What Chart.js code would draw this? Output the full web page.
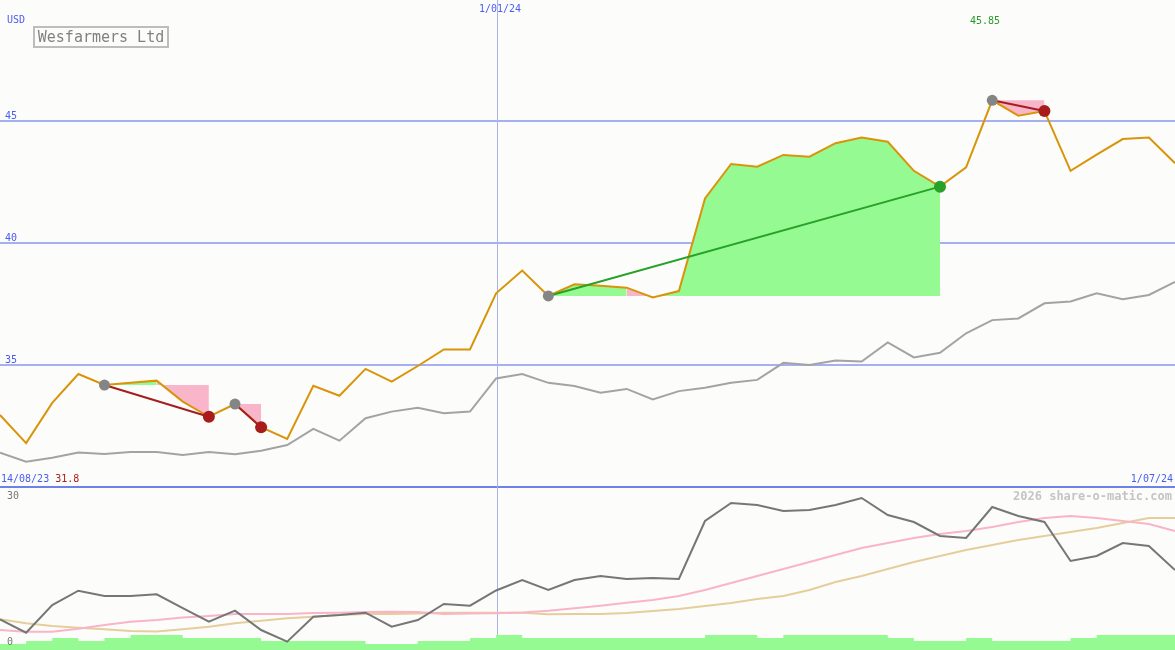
<!DOCTYPE html>
<html lang="en">
<head>
<meta charset="UTF-8">
<title>Wesfarmers Ltd</title>
<script src="https://cdn.jsdelivr.net/npm/chart.js"></script>
<style>
    body { margin: 0; background: #fcfdfb; }
    #wrap { position: relative; width: 1175px; height: 650px; overflow: hidden; }
    #chart { position: absolute; left: 0; top: 0; }
    .lbl { position: absolute; font-family: 'DejaVu Sans Mono', monospace; font-size: 10px; line-height: 12px; white-space: nowrap; }
    .blue { color: #4a5cf0; }
    #title { position: absolute; left: 33px; top: 26px; width: 132px; height: 18px; border: 2px solid #bdbdbd;
             font-family: 'DejaVu Sans Mono', monospace; font-size: 15px; line-height: 18px; color: #808080; text-align: center; }
</style>
</head>
<body>
<div id="wrap">
    <canvas id="chart" width="1175" height="650"></canvas>
    <div id="title">Wesfarmers Ltd</div>
    <div class="lbl blue" style="left:7px;top:14px">USD</div>
    <div class="lbl blue" style="left:479px;top:3px">1/01/24</div>
    <div class="lbl" style="left:970px;top:15px;color:#2a9a2a">45.85</div>
    <div class="lbl" style="left:1px;top:473px"><span class="blue">14/08/23</span> <span style="color:#a81c1c">31.8</span></div>
    <div class="lbl blue" style="right:2px;top:473px">1/07/24</div>
    <div class="lbl" style="right:3px;top:490px;font-size:12px;font-weight:bold;color:#c4c4c4">2026 share-o-matic.com</div>
    <div class="lbl" style="left:7px;top:490px;color:#777">30</div>
    <div class="lbl" style="left:7px;top:636px;color:#777">0</div>
</div>

<script>
    // weekly closes, 14/08/23 .. 1/07/24
    const close = [32.95, 31.80, 33.45, 34.63, 34.18, 34.27, 34.36, 33.50, 32.88, 33.40,
                   32.45, 31.97, 34.15, 33.74, 34.84, 34.32, 34.96, 35.64, 35.64, 37.94,
                   38.87, 37.83, 38.31, 38.25, 38.17, 37.77, 38.03, 41.83, 43.24, 43.13,
                   43.61, 43.54, 44.09, 44.32, 44.15, 42.96, 42.31, 43.10, 45.85, 45.22,
                   45.41, 42.96, 43.62, 44.26, 44.32, 43.27];
    // grey comparison line
    const compare = [31.41, 31.04, 31.20, 31.41, 31.35, 31.43, 31.43, 31.31, 31.43, 31.34,
                     31.49, 31.72, 32.38, 31.90, 32.82, 33.09, 33.25, 33.02, 33.09, 34.45,
                     34.63, 34.27, 34.14, 33.86, 34.02, 33.59, 33.93, 34.07, 34.27, 34.39,
                     35.09, 35.00, 35.18, 35.14, 35.93, 35.31, 35.50, 36.30, 36.84, 36.91,
                     37.53, 37.60, 37.94, 37.70, 37.87, 38.41];
    // lower panel indicator and its two averages
    const indicator = [5.79, 3.26, 8.49, 11.19, 10.19, 10.19, 10.51, 7.92, 5.34, 7.42,
                       3.77, 1.57, 6.28, 6.60, 7.04, 4.40, 5.66, 8.68, 8.36, 11.23,
                       13.21, 11.32, 13.21, 13.96, 13.40, 13.58, 13.40, 24.34, 27.74, 27.36,
                       26.23, 26.42, 27.36, 28.68, 25.47, 24.15, 21.51, 21.13, 26.98, 25.28,
                       24.15, 16.79, 17.74, 20.19, 19.62, 15.09];
    const avgFast = [3.77, 3.45, 3.45, 4.02, 4.72, 5.34, 5.66, 6.13, 6.42, 6.79,
                     6.79, 6.79, 6.98, 7.04, 7.17, 7.23, 7.17, 6.79, 6.89, 6.92,
                     7.08, 7.42, 7.87, 8.36, 8.93, 9.43, 10.19, 11.32, 12.64, 13.96,
                     15.28, 16.60, 17.92, 19.25, 20.19, 21.13, 21.89, 22.45, 23.21, 24.15,
                     24.91, 25.28, 24.91, 24.34, 23.77, 22.45];
    const avgSlow = [5.79, 5.04, 4.53, 4.21, 3.91, 3.58, 3.49, 3.91, 4.40, 5.04,
                     5.53, 5.98, 6.28, 6.60, 6.79, 6.79, 6.89, 7.04, 7.04, 7.04,
                     7.04, 6.74, 6.79, 6.79, 6.98, 7.36, 7.74, 8.30, 8.87, 9.62,
                     10.19, 11.32, 12.83, 13.96, 15.28, 16.60, 17.74, 18.87, 19.81, 20.75,
                     21.51, 22.26, 23.02, 23.96, 24.91, 24.91];
    const volume = [2, 3, 4, 3, 4, 5, 5, 4, 4, 4,
                    3, 3, 3, 3, 2, 2, 3, 3, 4, 5,
                    4, 4, 4, 4, 4, 4, 4, 5, 5, 4,
                    5, 5, 5, 5, 4, 3, 3, 4, 3, 3,
                    3, 4, 5, 5, 5, 5];
    // trades: entry and exit week indexes
    const tradeEntries = [4, 9, 21, 38];
    const tradeExits = [8, 10, 36, 40];

    const gridLevels = [45, 40, 35];
    const priceFloor = 30;
    const dateLineIndex = 19;

    const GREEN_FILL = '#95fa92';
    const PINK_FILL = '#f9b6cb';

    const pts = (arr) => arr.map((v, i) => ({ x: i, y: v }));

    const datasets = [];

    // markers on top
    tradeEntries.forEach((e, k) => {
        const x = tradeExits[k];
        const win = close[x] > close[e];
        datasets.push({
            type: 'scatter', yAxisID: 'y', order: 1,
            data: [{ x: x, y: close[x] }],
            pointRadius: 6, pointBackgroundColor: win ? '#27a127' : '#a81c1c', pointBorderWidth: 0
        });
        datasets.push({
            type: 'scatter', yAxisID: 'y', order: 1,
            data: [{ x: e, y: close[e] }],
            pointRadius: 5.5, pointBackgroundColor: '#858585', pointBorderWidth: 0
        });
        datasets.push({
            type: 'line', yAxisID: 'y', order: 2,
            data: [{ x: e, y: close[e] }, { x: x, y: close[x] }],
            borderColor: win ? '#27a127' : '#a31f1f', borderWidth: 2, pointRadius: 0
        });
    });

    datasets.push({
        type: 'line', yAxisID: 'y', order: 3, data: pts(close),
        borderColor: '#d9940a', borderWidth: 2, pointRadius: 0
    });

    // trade fills against entry price
    tradeEntries.forEach((e, k) => {
        const x = tradeExits[k];
        const entry = close[e];
        const seg = [];
        for (let i = e; i <= x; i++) seg.push({ x: i, y: close[i] });
        datasets.push({
            type: 'line', yAxisID: 'y', order: 4, data: seg,
            borderColor: 'transparent', borderWidth: 0, pointRadius: 0,
            backgroundColor: GREEN_FILL,
            fill: { value: entry },
            segment: { backgroundColor: ctx => ctx.p1.parsed.y >= entry ? GREEN_FILL : PINK_FILL }
        });
    });

    datasets.push({
        type: 'line', yAxisID: 'y', order: 5, data: pts(compare),
        borderColor: '#a3a3a3', borderWidth: 2, pointRadius: 0
    });

    // lower panel
    datasets.push({
        type: 'line', yAxisID: 'y2', order: 6, data: pts(indicator),
        borderColor: '#767676', borderWidth: 2, pointRadius: 0
    });
    datasets.push({
        type: 'line', yAxisID: 'y2', order: 7, data: pts(avgFast),
        borderColor: '#f9b4c8', borderWidth: 2, pointRadius: 0
    });
    datasets.push({
        type: 'line', yAxisID: 'y2', order: 8, data: pts(avgSlow),
        borderColor: '#e6cd9c', borderWidth: 2, pointRadius: 0
    });
    datasets.push({
        type: 'line', yAxisID: 'yv', order: 9, data: pts(volume),
        stepped: 'before', borderColor: 'transparent', borderWidth: 0, pointRadius: 0,
        backgroundColor: GREEN_FILL, fill: 'origin'
    });

    const gridPlugin = {
        id: 'panelGrid',
        beforeDatasetsDraw(chart) {
            const { ctx, scales: { x, y } } = chart;
            ctx.save();
            ctx.lineWidth = 2;
            ctx.strokeStyle = '#a4b0f2';
            gridLevels.forEach(v => {
                const py = Math.round(y.getPixelForValue(v));
                ctx.beginPath(); ctx.moveTo(0, py); ctx.lineTo(chart.width, py); ctx.stroke();
            });
            ctx.strokeStyle = '#6f80ea';
            const pf = Math.round(y.getPixelForValue(priceFloor));
            ctx.beginPath(); ctx.moveTo(0, pf); ctx.lineTo(chart.width, pf); ctx.stroke();
            ctx.lineWidth = 1;
            ctx.strokeStyle = '#aab3e2';
            const px = Math.ceil(x.getPixelForValue(dateLineIndex)) + 0.5;
            ctx.beginPath(); ctx.moveTo(px, 0); ctx.lineTo(px, chart.height); ctx.stroke();
            ctx.restore();
        }
    };

    const chart = new Chart(document.getElementById('chart').getContext('2d'), {
        data: { datasets: datasets },
        options: {
            responsive: false,
            animation: false,
            devicePixelRatio: 1,
            layout: { padding: 0, autoPadding: false },
            plugins: { legend: { display: false }, tooltip: { enabled: false } },
            scales: {
                x: { type: 'linear', min: 0, max: close.length - 1, display: false },
                y: { type: 'linear', min: 23.32, max: 49.96, display: false },
                y2: { type: 'linear', min: 0, max: 122.64, display: false },
                yv: { type: 'linear', min: 0, max: 216.67, display: false }
            }
        },
        plugins: [gridPlugin]
    });

    // price level labels
    const wrap = document.getElementById('wrap');
    gridLevels.forEach(v => {
        const d = document.createElement('div');
        d.className = 'lbl blue';
        d.style.left = '5px';
        d.style.top = (chart.scales.y.getPixelForValue(v) - 11) + 'px';
        d.textContent = v;
        wrap.appendChild(d);
    });
</script>
</body>
</html>
